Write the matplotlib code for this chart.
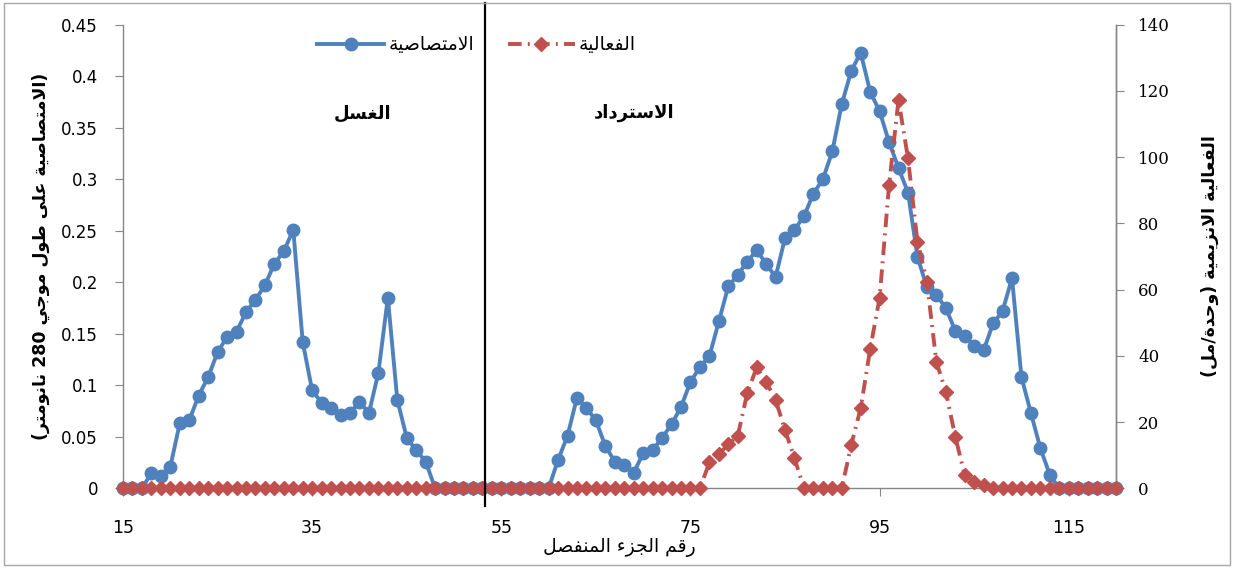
import re
import matplotlib
matplotlib.use('Agg')
import matplotlib.pyplot as plt
from matplotlib.patches import Rectangle

# fraction numbers 15..120
fractions = list(range(15, 121))

# absorbance at 280 nm (left axis)
absorbance = [
    0, 0, 0, 0.015, 0.012, 0.021, 0.063, 0.066, 0.090, 0.108,          # 15-24
    0.132, 0.147, 0.152, 0.171, 0.183, 0.197, 0.218, 0.230, 0.251, 0.142,  # 25-34
    0.095, 0.083, 0.078, 0.071, 0.073, 0.084, 0.073, 0.112, 0.185, 0.086,  # 35-44
    0.049, 0.037, 0.026, 0, 0, 0, 0, 0, 0, 0,                          # 45-54
    0, 0, 0, 0, 0, 0, 0.0275, 0.051, 0.088, 0.078,                      # 55-64
    0.066, 0.041, 0.026, 0.023, 0.015, 0.034, 0.037, 0.049, 0.062, 0.079,  # 65-74
    0.103, 0.118, 0.128, 0.162, 0.196, 0.207, 0.220, 0.231, 0.218, 0.205,  # 75-84
    0.243, 0.251, 0.264, 0.286, 0.300, 0.327, 0.373, 0.405, 0.423, 0.385,  # 85-94
    0.366, 0.336, 0.311, 0.287, 0.225, 0.195, 0.188, 0.175, 0.153, 0.148,  # 95-104
    0.138, 0.134, 0.160, 0.172, 0.204, 0.108, 0.073, 0.039, 0.013, 0,    # 105-114
    0, 0, 0, 0, 0, 0,                                                   # 115-120
]

# enzyme activity, units/ml (right axis)
activity = [0] * 62 + [
    7.8, 10.3, 13.3, 15.8, 28.7, 36.5, 32.2, 26.7, 17.6, 9.1,  # 77-86
    0, 0, 0, 0, 0, 13.1, 24.2, 42.0, 57.5, 91.6,               # 87-96
    117.3, 99.7, 74.5, 62.4, 38.2, 29.2, 15.6, 4.0, 2.0, 1.0,  # 97-106
] + [0] * 14

x_ticks = [15, 35, 55, 75, 95, 115]
left_ticks = [0, 0.05, 0.1, 0.15, 0.2, 0.25, 0.3, 0.35, 0.4, 0.45]
right_ticks = [0, 20, 40, 60, 80, 100, 120, 140]

# --- minimal arabic shaping (presentation forms + visual order) ---
FORMS = {
    'ء': ('\uFE80', None, None, None),
    'أ': ('\uFE83', '\uFE84', None, None),
    'إ': ('\uFE87', '\uFE88', None, None),
    'ا': ('\uFE8D', '\uFE8E', None, None),
    'ب': ('\uFE8F', '\uFE90', '\uFE91', '\uFE92'),
    'ة': ('\uFE93', '\uFE94', None, None),
    'ت': ('\uFE95', '\uFE96', '\uFE97', '\uFE98'),
    'ج': ('\uFE9D', '\uFE9E', '\uFE9F', '\uFEA0'),
    'ح': ('\uFEA1', '\uFEA2', '\uFEA3', '\uFEA4'),
    'د': ('\uFEA9', '\uFEAA', None, None),
    'ر': ('\uFEAD', '\uFEAE', None, None),
    'ز': ('\uFEAF', '\uFEB0', None, None),
    'س': ('\uFEB1', '\uFEB2', '\uFEB3', '\uFEB4'),
    'ص': ('\uFEB9', '\uFEBA', '\uFEBB', '\uFEBC'),
    'ط': ('\uFEC1', '\uFEC2', '\uFEC3', '\uFEC4'),
    'ع': ('\uFEC9', '\uFECA', '\uFECB', '\uFECC'),
    'غ': ('\uFECD', '\uFECE', '\uFECF', '\uFED0'),
    'ف': ('\uFED1', '\uFED2', '\uFED3', '\uFED4'),
    'ق': ('\uFED5', '\uFED6', '\uFED7', '\uFED8'),
    'ل': ('\uFEDD', '\uFEDE', '\uFEDF', '\uFEE0'),
    'م': ('\uFEE1', '\uFEE2', '\uFEE3', '\uFEE4'),
    'ن': ('\uFEE5', '\uFEE6', '\uFEE7', '\uFEE8'),
    'ه': ('\uFEE9', '\uFEEA', '\uFEEB', '\uFEEC'),
    'و': ('\uFEED', '\uFEEE', None, None),
    'ى': ('\uFEEF', '\uFEF0', None, None),
    'ي': ('\uFEF1', '\uFEF2', '\uFEF3', '\uFEF4'),
}
LAM_ALEF = {'ا': ('\uFEFB', '\uFEFC'), 'أ': ('\uFEF7', '\uFEF8'),
            'إ': ('\uFEF9', '\uFEFA')}


def ar(text):
    toks = []
    i = 0
    while i < len(text):
        c = text[i]
        if c == 'ل' and i + 1 < len(text) and text[i + 1] in LAM_ALEF:
            toks.append(('LA', text[i + 1]))
            i += 2
        else:
            toks.append((c, None))
            i += 1

    def joins_next(t):
        return t[0] in FORMS and FORMS[t[0]][2] is not None

    def can_join_prev(t):
        return t[0] == 'LA' or (t[0] in FORMS and FORMS[t[0]][1] is not None)

    out = []
    for k, t in enumerate(toks):
        prev = toks[k - 1] if k > 0 else None
        nxt = toks[k + 1] if k + 1 < len(toks) else None
        jp = prev is not None and joins_next(prev) and can_join_prev(t)
        if t[0] == 'LA':
            out.append(LAM_ALEF[t[1]][1 if jp else 0])
            continue
        if t[0] not in FORMS:
            out.append(t[0])
            continue
        f = FORMS[t[0]]
        jn = f[2] is not None and nxt is not None and can_join_prev(nxt)
        if jp and jn:
            out.append(f[3])
        elif jp:
            out.append(f[1])
        elif jn:
            out.append(f[2])
        else:
            out.append(f[0])
    shaped = ''.join(out)
    runs = re.findall(r'[0-9.]+|[^0-9.]', shaped)
    mirror = {'(': ')', ')': '('}
    return ''.join(mirror.get(r, r) for r in reversed(runs))


BLUE = '#4F81BD'
RED = '#C0504D'
GRAY = '#868686'

plt.rcParams['font.family'] = ['DejaVu Sans']

fig = plt.figure(figsize=(12.34, 5.68), dpi=100)
ax1 = fig.add_axes([0.0997, 0.1403, 0.8047, 0.8162])
ax2 = ax1.twinx()

ax1.plot(fractions, absorbance, color=BLUE, lw=2.8, marker='o', ms=9,
         clip_on=False, zorder=3, label=ar('الامتصاصية'))
ax2.plot(fractions, activity, color=RED, lw=2.8, marker='D', ms=7,
         linestyle=(0, (3.5, 1.6, 0.5, 1.6)), clip_on=False, zorder=4,
         label=ar('الفعالية'))

ax1.set_xlim(15, 120)
ax1.set_ylim(0, 0.45)
ax2.set_ylim(0, 140)
ax1.set_xticks(x_ticks)
ax1.set_yticks(left_ticks)
ax1.set_yticklabels(['0' if v == 0 else f'{v:g}' for v in left_ticks])
ax2.set_yticks(right_ticks)

for ax in (ax1, ax2):
    ax.spines['top'].set_visible(False)
    for s in ('left', 'right', 'bottom'):
        ax.spines[s].set_color(GRAY)
        ax.spines[s].set_linewidth(1)
ax2.spines['left'].set_visible(False)
ax2.spines['bottom'].set_visible(False)

ax1.tick_params(axis='y', direction='out', length=6, color=GRAY, pad=12,
                labelsize=12)
ax1.tick_params(axis='x', direction='out', length=6, color=GRAY, pad=16,
                labelsize=12.5)
ax2.tick_params(axis='y', direction='out', length=6, color=GRAY, pad=10,
                labelsize=12)
for lab in ax2.get_yticklabels():
    lab.set_fontfamily('DejaVu Serif')

ax1.set_xlabel(ar('رقم الجزء المنفصل'), fontsize=13.5, labelpad=1)
ax1.set_ylabel(ar('(الامتصاصية على طول موجي 280 نانومتر)'), fontsize=12.5,
               fontweight='bold', labelpad=8)
ax2.set_ylabel(ar('الفعالية الانزيمية (وحدة/مل)'), fontsize=12.5,
               fontweight='bold', rotation=90, labelpad=22)

# separation between wash and elution
ax2.axvline(53.3, ymin=-0.038, ymax=1.047, color='black', lw=1.6,
            clip_on=False, zorder=6)

ax1.text(40.3, 0.364, ar('الغسل'), fontsize=13, fontweight='bold',
         ha='center', va='center')
ax1.text(69.1, 0.364, ar('الاسترداد'), fontsize=13, fontweight='bold',
         ha='center', va='center')

h1, l1 = ax1.get_legend_handles_labels()
h2, l2 = ax2.get_legend_handles_labels()
ax2.legend(h1 + h2, l1 + l2, ncol=2, frameon=False, fontsize=13.5,
           loc='center', bbox_to_anchor=(0.386, 0.921),
           bbox_transform=fig.transFigure, handlelength=3.6,
           columnspacing=1.8, handletextpad=0.2)

fig.patches.append(Rectangle((0.003, 0.005), 0.994, 0.99,
                             transform=fig.transFigure, fill=False,
                             edgecolor='#A6A6A6', lw=1))

fig.savefig('out.png', dpi=100)
